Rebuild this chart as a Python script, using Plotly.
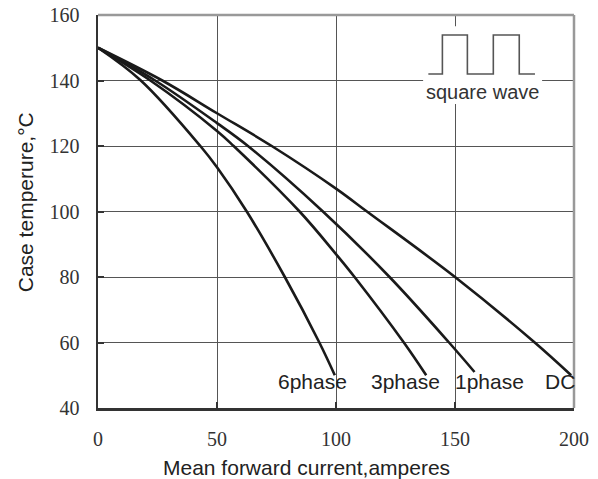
import plotly.graph_objects as go

# ---- data ----
x_6phase = [0, 18, 43, 50, 62.5, 78.5, 93, 99.5]
y_6phase = [150, 140, 120, 113.5, 100, 80, 60, 50]

x_3phase = [0, 22, 50, 57, 84.7, 100, 107.8, 128.5, 137.9]
y_3phase = [150, 140, 124.6, 120, 100, 87, 80, 60, 50]

x_1phase = [0, 24, 50, 63, 94.5, 122.5, 147.5, 158.2]
y_1phase = [150, 140, 127, 120, 100, 80, 60, 51]

x_dc = [0, 27, 50, 73, 100, 113, 150, 183.5, 198.8]
y_dc = [150, 140, 130, 120, 107, 100, 80, 60, 50]

series_names = ["6phase", "3phase", "1phase", "DC"]
label_x = [90.3, 129, 164.3, 194]
label_y = [48.2, 48.2, 48.2, 48.2]

x_ticks = [0, 50, 100, 150, 200]
y_ticks = [40, 60, 80, 100, 120, 140, 160]

# inset icon (square wave) in data units
wave_x = [138.8, 144.7, 144.7, 155.2, 155.2, 166.1, 166.1, 177.0, 177.0, 183.6]
wave_y = [142.0, 142.0, 153.9, 153.9, 142.0, 142.0, 153.9, 153.9, 142.0, 142.0]

curves = [(x_6phase, y_6phase), (x_3phase, y_3phase), (x_1phase, y_1phase), (x_dc, y_dc)]

fig = go.Figure()
for (xs, ys), name in zip(curves, series_names):
    fig.add_trace(go.Scatter(x=xs, y=ys, mode="lines", name=name,
                             line=dict(color="#1a1a1a", width=2.6, shape="spline", smoothing=1.0),
                             showlegend=False, hoverinfo="skip"))

fig.add_trace(go.Scatter(x=wave_x, y=wave_y, mode="lines",
                         line=dict(color="#555555", width=1.6),
                         showlegend=False, hoverinfo="skip"))

annotations = []
for name, lx, ly in zip(series_names, label_x, label_y):
    annotations.append(dict(x=lx, y=ly, xref="x", yref="y", text=name, showarrow=False,
                            font=dict(family="Liberation Sans", size=21, color="#222222"),
                            xanchor="center", yanchor="middle"))
annotations.append(dict(x=161.6, y=136.6, xref="x", yref="y", text="square wave", showarrow=False,
                        font=dict(family="Liberation Sans", size=20, color="#333333"),
                        xanchor="center", yanchor="middle"))
annotations.append(dict(x=0.439, y=-0.152, xref="paper", yref="paper",
                        text="Mean forward current,amperes", showarrow=False,
                        font=dict(family="Liberation Sans", size=21, color="#222222"),
                        xanchor="center", yanchor="middle"))
annotations.append(dict(x=-0.153, y=0.524, xref="paper", yref="paper",
                        text="Case temperure,°C", showarrow=False, textangle=-90,
                        font=dict(family="Liberation Sans", size=21, color="#222222"),
                        xanchor="center", yanchor="middle"))

shapes = [
    dict(type="rect", xref="x", yref="y", x0=136.6, x1=186.6, y0=132.8, y1=156.6,
         fillcolor="white", line=dict(width=0), layer="between"),
    dict(type="line", xref="paper", yref="paper", x0=0, x1=1, y0=1, y1=1,
         line=dict(color="#999999", width=2.5)),
    dict(type="line", xref="paper", yref="paper", x0=1, x1=1, y0=0, y1=1,
         line=dict(color="#999999", width=2.5)),
]

fig.update_layout(
    width=598, height=479,
    margin=dict(l=98, r=24, t=15, b=71),
    paper_bgcolor="white", plot_bgcolor="white",
    annotations=annotations, shapes=shapes,
    xaxis=dict(range=[0, 200], tickvals=x_ticks, showgrid=True, gridcolor="#555555", gridwidth=1,
               showline=True, linecolor="#333333", linewidth=2.5, ticks="inside", ticklen=6,
               tickcolor="#333333", tickwidth=2, zeroline=False, automargin=False,
               tickfont=dict(family="Liberation Serif", size=20, color="#333333"),
               ticklabelstandoff=11, ticklabeloverflow="allow"),
    yaxis=dict(range=[40, 160], tickvals=y_ticks, showgrid=True, gridcolor="#555555", gridwidth=1,
               showline=True, linecolor="#333333", linewidth=2.5, ticks="inside", ticklen=6,
               tickcolor="#333333", tickwidth=2, zeroline=False, automargin=False,
               tickfont=dict(family="Liberation Serif", size=20, color="#333333"),
               ticklabelstandoff=12, ticklabeloverflow="allow"),
)

# remove the page's default body margin so the figure fills the window exactly
fig.write_html("out.html",
               config={"displayModeBar": False, "staticPlot": True},
               post_script="document.body.style.margin='0';document.body.style.overflow='hidden';")
